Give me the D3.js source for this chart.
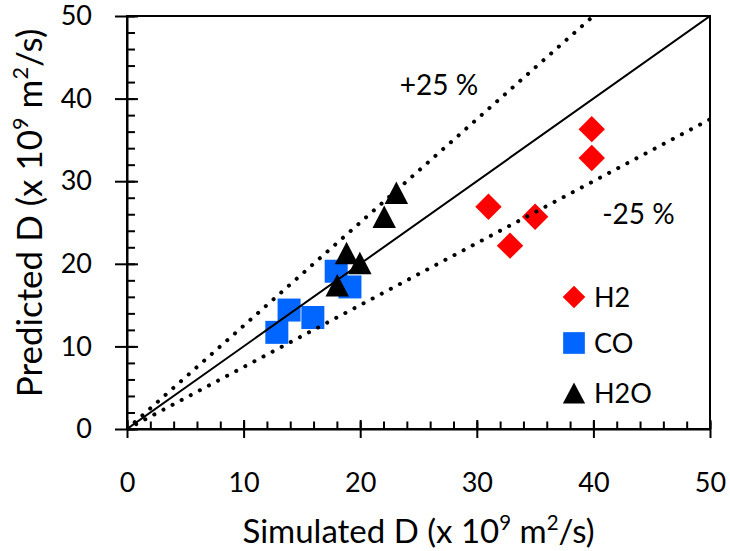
<!DOCTYPE html>
<html>
<head>
<meta charset="utf-8">
<script src="https://cdn.jsdelivr.net/npm/d3@7"></script>
<style>
  body { margin: 0; background: #fff; }
  text { font-family: Lato, "Open Sans", sans-serif; fill: #000; }
</style>
</head>
<body>
<div id="chart"></div>
<script>
// series (x = simulated, y = predicted, x 10^9 m2/s)
var h2X = [31.0, 32.85, 35.0, 39.86, 39.86];
var h2Y = [26.9, 22.2, 25.7, 32.8, 36.3];
var coX = [12.85, 13.9, 15.94, 17.94, 19.12];
var coY = [11.7, 14.4, 13.5, 19.1, 17.2];
var h2oX = [23.1, 22.06, 18.83, 19.97, 18.03];
var h2oY = [28.6, 25.7, 21.3, 20.1, 17.4];
var seriesNames = ["H2", "CO", "H2O"];
var majorTicks = [0, 10, 20, 30, 40, 50];
var minorTicks = d3.range(0, 51, 2);
var guideLines = [{ k: 1, label: null }, { k: 1.25, label: "+25 %" }, { k: 0.75, label: "-25 %" }];

var margin = { top: 16, right: 20, bottom: 122, left: 127 };
var width = 583, height = 413;

var svg = d3.select("#chart")
    .append("svg")
    .attr("width", 730)
    .attr("height", 551)
    .append("g")
    .attr("transform", "translate(" + margin.left + "," + margin.top + ")");

var x = d3.scaleLinear().domain([0, 50]).range([0, width]);
var y = d3.scaleLinear().domain([0, 50]).range([height, 0]);

// frame
svg.append("rect")
    .attr("width", width).attr("height", height)
    .attr("fill", "none").attr("stroke", "#000").attr("stroke-width", 2);

// minor ticks (inside)
svg.append("g")
    .attr("transform", "translate(0," + height + ")")
    .call(d3.axisBottom(x).tickValues(minorTicks).tickSize(-7.5).tickFormat(""))
    .call(function (g) { g.select(".domain").remove(); })
    .selectAll("line").attr("stroke-width", 2);
svg.append("g")
    .call(d3.axisLeft(y).tickValues(minorTicks).tickSize(-8).tickFormat(""))
    .call(function (g) { g.select(".domain").remove(); })
    .selectAll("line").attr("stroke-width", 2);

// major ticks (crossing) + labels
var xAxis = svg.append("g")
    .attr("transform", "translate(0," + height + ")")
    .call(d3.axisBottom(x).tickValues(majorTicks).tickSize(9).tickPadding(35).tickSizeOuter(0));
xAxis.select(".domain").attr("stroke-width", 2);
xAxis.selectAll("line").attr("y1", -9).attr("stroke-width", 2);
xAxis.selectAll("text").style("font-size", "27px").style("font-family", "Lato");

var yAxis = svg.append("g")
    .call(d3.axisLeft(y).tickValues(majorTicks).tickSize(12).tickPadding(23).tickSizeOuter(0));
yAxis.select(".domain").attr("stroke-width", 2);
yAxis.selectAll("line").attr("x1", 11).attr("stroke-width", 2);
yAxis.selectAll("text").style("font-size", "27px").style("font-family", "Lato");

// marker shapes
var diamond = function (r) { return "M0," + (-r) + "L" + r + ",0L0," + r + "L" + (-r) + ",0Z"; };
var square = function (s) { var h = s / 2; return "M" + (-h) + "," + (-h) + "h" + s + "v" + s + "h" + (-s) + "Z"; };
var triangle = function (w, t) { return "M0," + (-t / 2) + "L" + (w / 2) + "," + (t / 2) + "L" + (-w / 2) + "," + (t / 2) + "Z"; };

var markers = [
    { xs: h2X, ys: h2Y, color: "#ff0000", path: diamond(13.2), legend: diamond(11.3) },
    { xs: coX, ys: coY, color: "#0066ff", path: square(23), legend: square(21.7) },
    { xs: h2oX, ys: h2oY, color: "#000000", path: triangle(23.5, 22.5), legend: triangle(22.3, 21) }
];

markers.forEach(function (m) {
    svg.append("g")
        .selectAll("path")
        .data(d3.zip(m.xs, m.ys))
        .enter()
        .append("path")
        .attr("transform", function (d) { return "translate(" + x(d[0]) + "," + y(d[1]) + ")"; })
        .attr("d", m.path)
        .attr("fill", m.color);
});

// 1:1 and +/-25 % lines
svg.append("clipPath").attr("id", "plotclip")
    .append("rect").attr("width", width).attr("height", height);
guideLines.forEach(function (g) {
    var xEnd = Math.min(50, 50 / g.k);
    svg.append("line")
        .attr("clip-path", "url(#plotclip)")
        .attr("x1", x(0)).attr("y1", y(0))
        .attr("x2", x(xEnd)).attr("y2", y(xEnd * g.k))
        .attr("stroke", "#000")
        .attr("stroke-width", g.k === 1 ? 2 : 4)
        .attr("stroke-linecap", "round")
        .attr("stroke-dasharray", g.k === 1 ? null : "0.1 10.2");
});

// line labels
svg.append("text").attr("x", x(23.4)).attr("y", y(40.4))
    .style("font-size", "28px").text(guideLines[1].label);
svg.append("text").attr("x", x(40.75)).attr("y", y(24.8))
    .style("font-size", "28px").text(guideLines[2].label);

// legend
var legend = svg.append("g").attr("transform", "translate(447,281)");
markers.forEach(function (m, i) {
    var row = legend.append("g").attr("transform", "translate(0," + [0, 46, 96][i] + ")");
    row.append("path").attr("d", m.legend).attr("fill", m.color);
    row.append("text").attr("x", 20).attr("y", 10)
        .style("font-size", "27px").text(seriesNames[i]);
});

// axis titles
function title(sel, name, size) {
    var up = Math.round(size * 0.4);
    sel.style("font-size", size + "px");
    sel.append("tspan").text(name + " (x 10");
    sel.append("tspan").attr("dy", -up).style("font-size", "62%").text("9");
    sel.append("tspan").attr("dy", up).text(" m");
    sel.append("tspan").attr("dy", -up).style("font-size", "62%").text("2");
    sel.append("tspan").attr("dy", up).text("/s)");
}
svg.append("text")
    .attr("x", width / 2).attr("y", 527)
    .attr("text-anchor", "middle")
    .call(title, "Simulated D", 33);
svg.append("text")
    .attr("transform", "translate(-85," + (213 - margin.top) + ") rotate(-90)")
    .attr("text-anchor", "middle")
    .call(title, "Predicted D", 35);
</script>
</body>
</html>
